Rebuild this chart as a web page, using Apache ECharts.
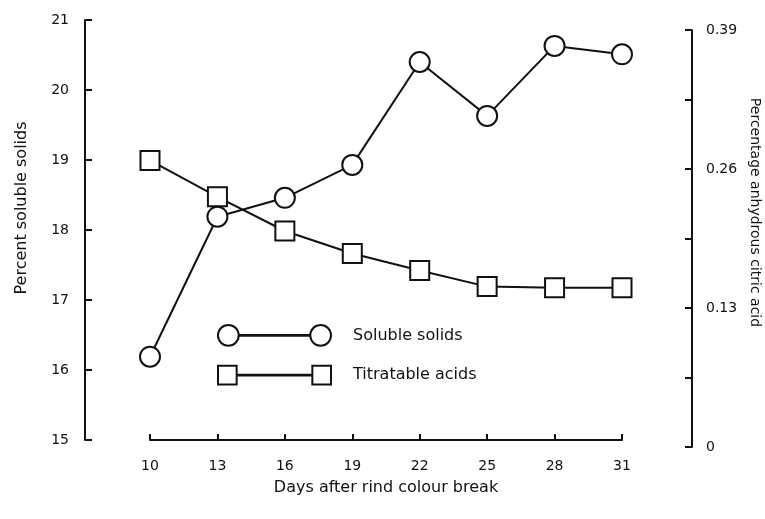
<!DOCTYPE html>
<html>
<head>
<meta charset="utf-8">
<script src="https://cdn.jsdelivr.net/npm/echarts@6/dist/echarts.min.js"></script>
<style>
  html, body { margin: 0; padding: 0; background: #fff; }
  #main { width: 765px; height: 519px; }
</style>
</head>
<body>
<div id="main"></div>
<script>
// days after rind colour break
const days = [10, 13, 16, 19, 22, 25, 28, 31];
// percent soluble solids (left axis)
const solubleSolids = [16.19, 18.19, 18.46, 18.93, 20.40, 19.63, 20.63, 20.51];
// percentage anhydrous citric acid (right axis)
const titratableAcids = [0.268, 0.234, 0.202, 0.181, 0.165, 0.150, 0.149, 0.149];

const leftTicks = [15, 21, 1];
const rightTicks = [0, 0.39, 0.065];

const ink = '#111';
const font = 'DejaVu Sans';

const circlePair = 'path://M2,12 A10,10 0 1,1 22,12 A10,10 0 1,1 2,12 Z M91,12 A10,10 0 1,1 111,12 A10,10 0 1,1 91,12 Z M22,11.6 L91,11.6 L91,12.4 L22,12.4 Z';
const squarePair = 'path://M2,3 L20,3 L20,21 L2,21 Z M93,3 L111,3 L111,21 L93,21 Z M20,11.6 L93,11.6 L93,12.4 L20,12.4 Z';

var chartDom = document.getElementById('main');
var myChart = echarts.init(chartDom);
var option;

option = {
    backgroundColor: '#fff',
    animation: false,
    textStyle: { fontFamily: font, color: ink },
    grid: [
        { left: 150, right: 143, top: 20, bottom: 79, outerBoundsMode: 'none', containLabel: false },
        { left: 150, right: 143, top: 30, bottom: 72, outerBoundsMode: 'none', containLabel: false }
    ],
    legend: {
        orient: 'vertical',
        left: 217,
        top: 324,
        padding: 0,
        itemWidth: 113,
        itemHeight: 24,
        itemGap: 18,
        textStyle: { fontFamily: font, fontSize: 16, color: ink, padding: [0, 0, 0, 17] },
        data: [
            { name: 'Soluble solids', icon: circlePair },
            { name: 'Titratable acids', icon: squarePair }
        ]
    },
    xAxis: [
        {
            type: 'value',
            gridIndex: 0,
            min: 10,
            max: 31,
            interval: 3,
            name: 'Days after rind colour break',
            nameLocation: 'middle',
            nameGap: 40,
            nameTextStyle: { fontFamily: font, fontSize: 16, color: ink },
            axisLine: { lineStyle: { color: ink, width: 2 } },
            axisTick: { inside: true, length: 6, lineStyle: { color: ink, width: 2 } },
            axisLabel: { margin: 19, fontSize: 14, color: ink, fontFamily: font },
            splitLine: { show: false }
        },
        {
            type: 'value',
            gridIndex: 1,
            min: 10,
            max: 31,
            interval: 3,
            show: false
        }
    ],
    yAxis: [
        {
            type: 'value',
            gridIndex: 0,
            position: 'left',
            offset: 65,
            min: leftTicks[0],
            max: leftTicks[1],
            interval: leftTicks[2],
            name: 'Percent soluble solids',
            nameLocation: 'middle',
            nameGap: 55,
            nameTextStyle: { fontFamily: font, fontSize: 16, color: ink, padding: [0, 0, 0, 44] },
            axisLine: { show: true, lineStyle: { color: ink, width: 2 } },
            axisTick: { show: true, inside: true, length: 7, lineStyle: { color: ink, width: 2 } },
            axisLabel: { margin: 16, fontSize: 14, color: ink, fontFamily: font },
            splitLine: { show: false }
        },
        {
            type: 'value',
            gridIndex: 1,
            position: 'right',
            offset: 70,
            min: rightTicks[0],
            max: rightTicks[1],
            interval: rightTicks[2],
            name: 'Percentage anhydrous citric acid',
            nameLocation: 'middle',
            nameRotate: -90,
            nameGap: 30,
            nameTextStyle: { fontFamily: font, fontSize: 14, color: ink, padding: [0, 52, 0, 0] },
            axisLine: { show: true, lineStyle: { color: ink, width: 2 } },
            axisTick: { show: true, inside: true, length: 7, lineStyle: { color: ink, width: 2 } },
            axisLabel: {
                margin: 14, fontSize: 14, color: ink, fontFamily: font,
                formatter: function (v, i) {
                    if (i % 2 !== 0) return '';
                    return v === 0 ? '0' : v.toFixed(2);
                }
            },
            splitLine: { show: false }
        }
    ],
    series: [
        {
            name: 'Soluble solids',
            type: 'line',
            xAxisIndex: 0,
            yAxisIndex: 0,
            symbol: 'circle',
            symbolSize: 20,
            z: 3,
            lineStyle: { color: ink, width: 2 },
            itemStyle: { color: '#fff', borderColor: ink, borderWidth: 2 },
            data: days.map((d, i) => [d, solubleSolids[i]])
        },
        {
            name: 'Titratable acids',
            type: 'line',
            xAxisIndex: 1,
            yAxisIndex: 1,
            symbol: 'rect',
            symbolSize: 19,
            z: 2,
            lineStyle: { color: ink, width: 2 },
            itemStyle: { color: '#fff', borderColor: ink, borderWidth: 2 },
            data: days.map((d, i) => [d, titratableAcids[i]])
        }
    ]
};
option && myChart.setOption(option);
</script>
</body>
</html>
